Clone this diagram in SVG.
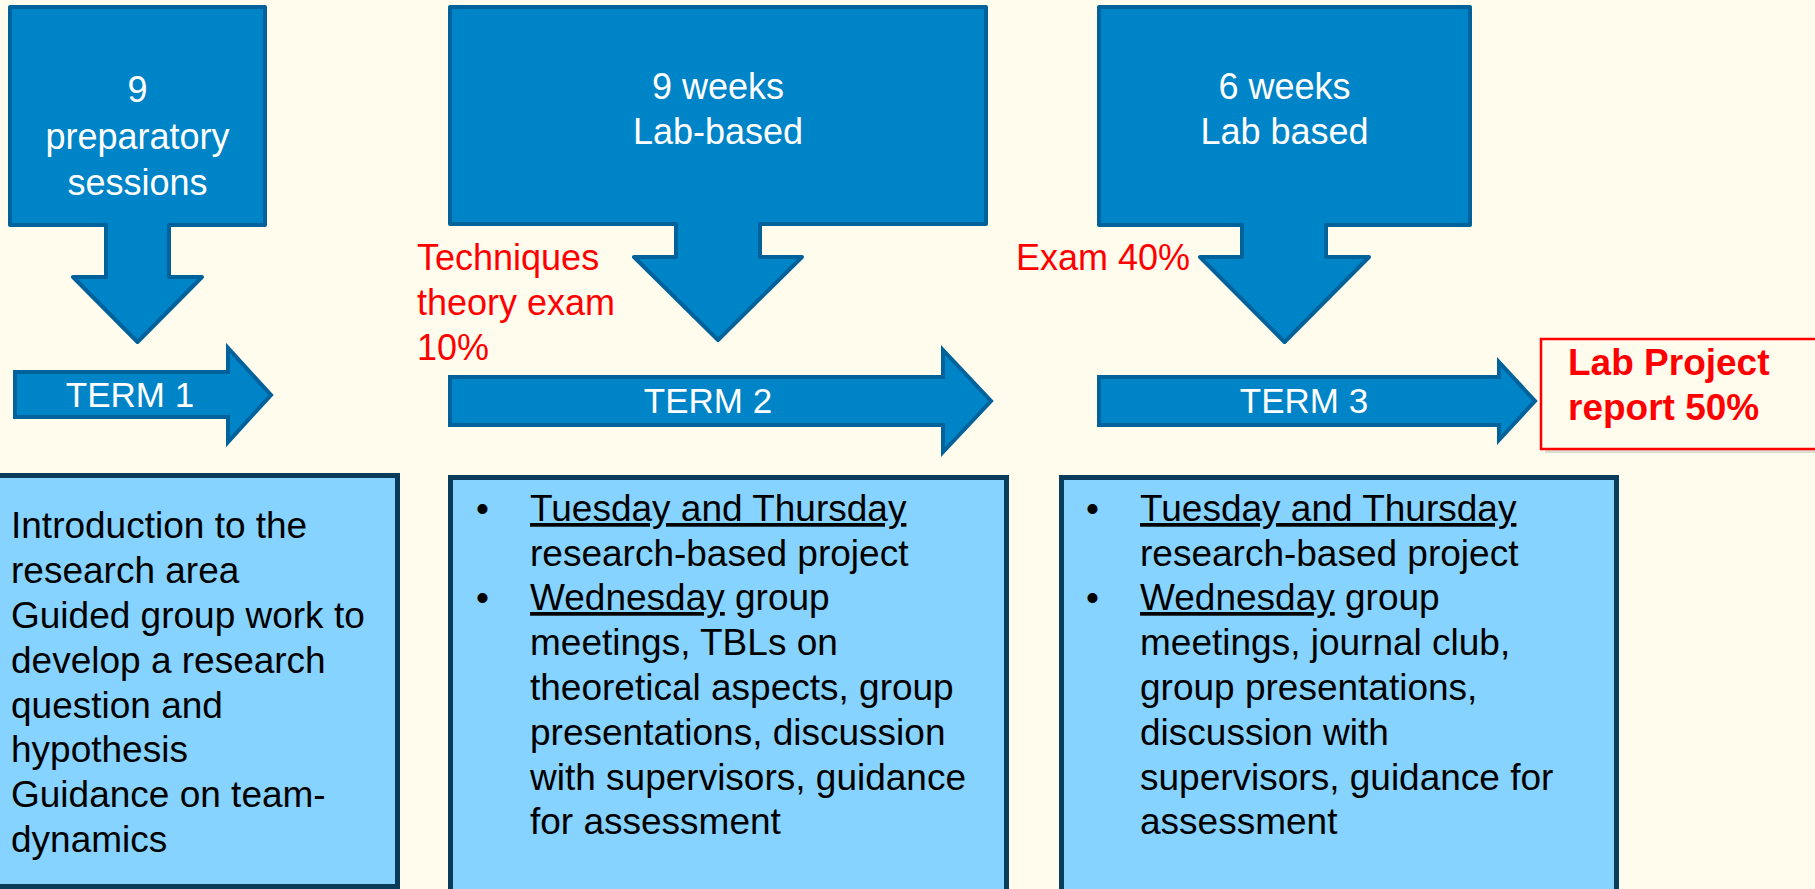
<svg xmlns="http://www.w3.org/2000/svg" width="1815" height="889" viewBox="0 0 1815 889">
  <style>
    .callout { fill: #0084c8; stroke: #00629b; stroke-width: 4; stroke-linejoin: round; }
    .term { fill: #0084c8; stroke: #00629b; stroke-width: 4; stroke-linejoin: miter; }
    .card { fill: #85d3fe; stroke: #0b3b5b; stroke-width: 5; }
    .wt { fill: #ffffff; font-family: "Liberation Sans", Arial, sans-serif; font-size: 36px; text-anchor: middle; }
    .red { fill: #ff0000; font-family: "Liberation Sans", Arial, sans-serif; font-size: 36px; }
    .redb { fill: #ff0000; font-family: "Liberation Sans", Arial, sans-serif; font-size: 37px; font-weight: bold; }
    .body { fill: #000000; font-family: "Liberation Sans", Arial, sans-serif; font-size: 37px; }
    .u { text-decoration: underline; }
  </style>

  <rect x="0" y="0" width="1815" height="889" fill="#fffcee"/>

  <!-- Down-pointing callouts -->
  <g id="prep-callout">
    <path class="callout" d="M10,7 H265 V225 H169 V277 H202 L137.5,342 L73,277 H106 V225 H10 Z"/>
    <text class="wt" x="137.5" y="102">9</text>
    <text class="wt" x="137.5" y="148.5">preparatory</text>
    <text class="wt" x="137.5" y="195">sessions</text>
  </g>

  <g id="term2-callout">
    <path class="callout" d="M450,7 H986 V224 H760 V257 H802 L718,340 L634,257 H676 V224 H450 Z"/>
    <text class="wt" x="718" y="98.5">9 weeks</text>
    <text class="wt" x="718" y="144">Lab-based</text>
  </g>

  <g id="term3-callout">
    <path class="callout" d="M1099,7 H1470 V225 H1326 V257 H1369 L1284.5,342 L1200,257 H1242 V225 H1099 Z"/>
    <text class="wt" x="1284.5" y="98.5">6 weeks</text>
    <text class="wt" x="1284.5" y="144">Lab based</text>
  </g>

  <!-- Assessment labels -->
  <g id="techniques-exam">
    <text class="red" x="417" y="270">Techniques</text>
    <text class="red" x="417" y="315">theory exam</text>
    <text class="red" x="417" y="360">10%</text>
  </g>

  <g id="exam-40">
    <text class="red" x="1016" y="270">Exam 40%</text>
  </g>

  <!-- Term timeline arrows -->
  <g id="term1">
    <path class="term" d="M15,372 H228 V348 L271,395 L228,442 V417 H15 Z"/>
    <text class="wt" x="130" y="407" style="font-size:35px">TERM 1</text>
  </g>

  <g id="term2">
    <path class="term" d="M450,377 H943 V350 L991,401 L943,452 V425 H450 Z"/>
    <text class="wt" x="708" y="413" style="font-size:35px">TERM 2</text>
  </g>

  <g id="term3">
    <path class="term" d="M1099,377 H1499 V362 L1535,401 L1499,440 V425 H1099 Z"/>
    <text class="wt" x="1304" y="413" style="font-size:35px">TERM 3</text>
  </g>

  <g id="lab-report">
    <rect x="1545" y="343" width="290" height="110" fill="#000000" opacity="0.12"/>
    <rect x="1541" y="339" width="290" height="110" fill="#fffcee" stroke="#ff0000" stroke-width="2.5"/>
    <text class="redb" x="1568" y="375">Lab Project</text>
    <text class="redb" x="1568" y="420">report 50%</text>
  </g>

  <!-- Term content cards -->
  <g id="term1-card">
    <rect class="card" x="-10" y="475.5" width="407.5" height="411"/>
    <text class="body" x="11" y="538">Introduction to the</text>
    <text class="body" x="11" y="583">research area</text>
    <text class="body" x="11" y="627.5">Guided group work to</text>
    <text class="body" x="11" y="672.5">develop a research</text>
    <text class="body" x="11" y="717.5">question and</text>
    <text class="body" x="11" y="762">hypothesis</text>
    <text class="body" x="11" y="807">Guidance on team-</text>
    <text class="body" x="11" y="852">dynamics</text>
  </g>

  <g id="term2-card">
    <rect class="card" x="450.5" y="477.5" width="556" height="430"/>
    <text class="body" x="476" y="521">•</text>
    <text class="body" x="530" y="521"><tspan class="u">Tuesday and Thursday</tspan></text>
    <text class="body" x="530" y="565.5">research-based project</text>
    <text class="body" x="476" y="610">•</text>
    <text class="body" x="530" y="610"><tspan class="u">Wednesday</tspan> group</text>
    <text class="body" x="530" y="655">meetings, TBLs on</text>
    <text class="body" x="530" y="700">theoretical aspects, group</text>
    <text class="body" x="530" y="745">presentations, discussion</text>
    <text class="body" x="530" y="789.5">with supervisors, guidance</text>
    <text class="body" x="530" y="834">for assessment</text>
  </g>

  <g id="term3-card">
    <rect class="card" x="1061.5" y="477.5" width="555" height="430"/>
    <text class="body" x="1086" y="521">•</text>
    <text class="body" x="1140" y="521"><tspan class="u">Tuesday and Thursday</tspan></text>
    <text class="body" x="1140" y="565.5">research-based project</text>
    <text class="body" x="1086" y="610">•</text>
    <text class="body" x="1140" y="610"><tspan class="u">Wednesday</tspan> group</text>
    <text class="body" x="1140" y="655">meetings, journal club,</text>
    <text class="body" x="1140" y="700">group presentations,</text>
    <text class="body" x="1140" y="745">discussion with</text>
    <text class="body" x="1140" y="789.5">supervisors, guidance for</text>
    <text class="body" x="1140" y="834">assessment</text>
  </g>

  <!-- No separate connector lines: the timeline is carried by the block arrows -->
  <g id="connectors"/>
</svg>
